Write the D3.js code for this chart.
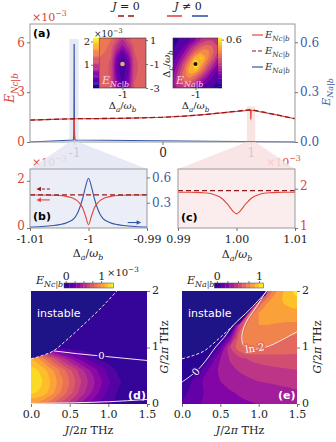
<!DOCTYPE html>
<html>
<head>
<meta charset="utf-8">
<script src="https://cdn.jsdelivr.net/npm/d3@7"></script>
<style>
  body { margin: 0; background: #fff; }
  svg { display: block; }
</style>
</head>
<body>
<script>
// ---------------- data ----------------
// (a) wide sweep of the detuning, E_Nc|b in units of 1e-3 (J = 0)
var sweepDelta = [-1.5, -1.25, -1, -0.75, -0.5, -0.25, 0, 0.25, 0.5, 0.75, 1, 1.25, 1.5];
var sweepNc = [1.32, 1.36, 1.40, 1.41, 1.42, 1.45, 1.49, 1.56, 1.66, 1.80, 1.95, 1.68, 1.40];

// narrow windows around the two resonances, offsets in units of 1e-3
var dipOffset = [-10, -8, -6, -5, -4, -3, -2.5, -2, -1.5, -1, -0.5, 0, 0.5, 1, 1.5, 2, 2.5, 3, 4, 5, 6, 8, 10];
var dipNcLow = [1.40, 1.40, 1.39, 1.38, 1.35, 1.29, 1.24, 1.17, 1.04, 0.85, 0.50, 0.14, 0.50, 0.85, 1.04, 1.17, 1.24, 1.29, 1.35, 1.38, 1.39, 1.40, 1.40];
var dipNaLow = [0.012, 0.018, 0.03, 0.04, 0.055, 0.085, 0.11, 0.16, 0.24, 0.35, 0.49, 0.59, 0.49, 0.35, 0.24, 0.16, 0.11, 0.085, 0.055, 0.04, 0.03, 0.018, 0.012];
var dipNcHigh = [1.91, 1.91, 1.90, 1.89, 1.86, 1.80, 1.75, 1.68, 1.60, 1.50, 1.41, 1.36, 1.41, 1.50, 1.60, 1.68, 1.75, 1.80, 1.86, 1.89, 1.90, 1.91, 1.91];

// inset maps over (Δa, Δc): columns Δa = -1.02 .. -0.98, rows Δc = -3 .. 1
var insetNc = [
  [1.30, 1.30, 1.20, 0.65, 0.40, 0.65, 1.20, 1.30, 1.30],
  [1.30, 1.30, 1.20, 0.55, 0.30, 0.55, 1.20, 1.30, 1.30],
  [1.30, 1.30, 1.15, 0.50, 0.20, 0.50, 1.15, 1.28, 1.30],
  [1.30, 1.30, 1.15, 0.45, 0.15, 0.45, 1.12, 1.26, 1.30],
  [1.30, 1.30, 1.15, 0.45, 0.15, 0.45, 1.12, 1.26, 1.30],
  [1.35, 1.30, 1.20, 0.55, 0.25, 0.55, 1.15, 1.28, 1.30],
  [1.40, 1.35, 1.25, 0.75, 0.45, 0.75, 1.20, 1.30, 1.30],
  [1.45, 1.40, 1.30, 0.95, 0.70, 0.95, 1.25, 1.30, 1.30],
  [1.40, 1.40, 1.35, 1.15, 0.90, 1.15, 1.30, 1.30, 1.30]
];
var insetNa = [
  [0.18, 0.26, 0.28, 0.25, 0.18, 0.12, 0.08, 0.06, 0.04],
  [0.20, 0.30, 0.36, 0.35, 0.28, 0.19, 0.13, 0.08, 0.06],
  [0.17, 0.29, 0.40, 0.45, 0.39, 0.30, 0.20, 0.13, 0.08],
  [0.14, 0.25, 0.38, 0.52, 0.54, 0.42, 0.30, 0.19, 0.12],
  [0.11, 0.20, 0.33, 0.47, 0.60, 0.50, 0.38, 0.27, 0.17],
  [0.09, 0.15, 0.25, 0.38, 0.52, 0.55, 0.45, 0.34, 0.24],
  [0.06, 0.11, 0.18, 0.28, 0.38, 0.45, 0.45, 0.38, 0.29],
  [0.05, 0.08, 0.12, 0.20, 0.28, 0.35, 0.38, 0.36, 0.30],
  [0.04, 0.06, 0.08, 0.12, 0.18, 0.25, 0.29, 0.30, 0.28]
];

// (d), (e): columns J = 0 .. 1.5 step 0.125, rows G = 0 .. 2 step 0.2
var mapNc = [
  [0.98, 0.94, 0.84, 0.70, 0.56, 0.42, 0.30, 0.20, 0.12, 0.07, 0.05, 0.05, 0.05],
  [1.22, 1.18, 1.06, 0.90, 0.74, 0.58, 0.43, 0.30, 0.18, 0.09, 0.05, 0.05, 0.05],
  [1.26, 1.22, 1.10, 0.95, 0.79, 0.63, 0.48, 0.34, 0.22, 0.12, 0.06, 0.05, 0.05],
  [1.24, 1.18, 1.04, 0.88, 0.72, 0.56, 0.41, 0.28, 0.16, 0.08, 0.05, 0.05, 0.05],
  [1.10, 0.98, 0.78, 0.58, 0.42, 0.28, 0.17, 0.09, 0.05, 0.05, 0.05, 0.05, 0.05],
  [0.40, 0.28, 0.15, 0.07, 0.05, 0.05, 0.05, 0.05, 0.05, 0.05, 0.05, 0.05, 0.05],
  [0.05, 0.05, 0.05, 0.05, 0.05, 0.05, 0.05, 0.05, 0.05, 0.05, 0.05, 0.05, 0.05],
  [0.05, 0.05, 0.05, 0.05, 0.05, 0.05, 0.05, 0.05, 0.05, 0.05, 0.05, 0.05, 0.05],
  [0.05, 0.05, 0.05, 0.05, 0.05, 0.05, 0.05, 0.05, 0.05, 0.05, 0.05, 0.05, 0.05],
  [0.05, 0.05, 0.05, 0.05, 0.05, 0.05, 0.05, 0.05, 0.05, 0.05, 0.05, 0.05, 0.05],
  [0.05, 0.05, 0.05, 0.05, 0.05, 0.05, 0.05, 0.05, 0.05, 0.05, 0.05, 0.05, 0.05]
];
var mapNa = [
  [0.12, 0.16, 0.20, 0.22, 0.25, 0.26, 0.28, 0.29, 0.30, 0.31, 0.32, 0.33, 0.33],
  [0.06, 0.13, 0.19, 0.23, 0.27, 0.29, 0.31, 0.33, 0.34, 0.35, 0.36, 0.37, 0.38],
  [-0.01, 0.10, 0.19, 0.26, 0.30, 0.33, 0.36, 0.38, 0.40, 0.41, 0.42, 0.43, 0.44],
  [-0.4, -0.15, 0.10, 0.24, 0.32, 0.37, 0.41, 0.44, 0.46, 0.47, 0.48, 0.49, 0.50],
  [-0.6, -0.4, -0.21, 0.12, 0.30, 0.41, 0.47, 0.51, 0.53, 0.55, 0.56, 0.565, 0.57],
  [-0.8, -0.6, -0.4, -0.16, 0.15, 0.48, 0.67, 0.73, 0.71, 0.685, 0.665, 0.65, 0.63],
  [-1, -0.8, -0.6, -0.4, -0.18, 0.2, 0.66, 0.77, 0.78, 0.76, 0.73, 0.70, 0.68],
  [-1.2, -1, -0.9, -0.8, -0.7, -0.54, 0.5, 0.76, 0.80, 0.80, 0.79, 0.78, 0.77],
  [-3, -3, -3, -3, -3, -3, -2.5, 0.62, 0.80, 0.84, 0.85, 0.86, 0.86],
  [-4, -4, -4, -4, -4, -4, -4, -3.2, 0.62, 0.80, 0.88, 0.92, 0.95],
  [-5, -5, -5, -5, -5, -5, -5, -5, -4.4, 0.6, 0.82, 0.95, 1.04]
];

// stability edge and contour lines in (J, G)
var instableEdge = [[0, 0.8], [0.15, 0.86], [0.29, 0.94], [0.45, 1.12], [0.66, 1.38], [0.89, 1.68], [1.11, 2.0]];
var zeroLineNc = [[0.29, 0.94], [0.6, 0.89], [0.9, 0.85], [1.2, 0.81], [1.5, 0.77]];
var floorLineNc = [[0, 0.01], [0.5, 0.02], [1.0, 0.04], [1.5, 0.08]];
var zeroLineNa = [[0, 0.39], [0.18, 0.57], [0.3, 0.75], [0.44, 1.01], [0.55, 1.18], [0.66, 1.38], [0.89, 1.68], [1.11, 2.0]];
var ln2LineNa = [[1.10, 2.0], [0.97, 1.72], [0.83, 1.43], [0.78, 1.19], [0.80, 1.04], [0.86, 0.97], [1.1, 1.01], [1.46, 1.25], [1.5, 1.28]];

// ---------------- setup ----------------
var red = "#e0473d", darkRed = "#8c1a1a", blue = "#3457a4";
var redText = "#d9453b", blueText = "#3a5ca8";
var plasma = d3.interpolatePlasma;

var svg = d3.select("body").append("svg")
  .attr("width", 336)
  .attr("height", 442)
  .style("font-family", "'DejaVu Serif', serif");

var defs = svg.append("defs");
function clipRect(id, x, y, w, h) {
  defs.append("clipPath").attr("id", id)
    .append("rect").attr("x", x).attr("y", y).attr("width", w).attr("height", h);
}

// text with italic / sub / superscript pieces
function rich(g, x, y, parts, o) {
  o = o || {};
  var size = o.size || 11;
  var t = g.append("text")
    .attr("transform", "translate(" + x + "," + y + ")" + (o.rot ? " rotate(" + o.rot + ")" : ""))
    .attr("text-anchor", o.anchor || "middle")
    .style("font-size", size + "px")
    .style("fill", o.color || "#222");
  var cur = 0;
  parts.forEach(function(p) {
    var kind = p[1] || "", shift = 0, fs = size;
    if (kind.indexOf("_") >= 0) { shift = size * 0.3; fs = size * 0.72; }
    if (kind.indexOf("^") >= 0) { shift = -size * 0.42; fs = size * 0.72; }
    t.append("tspan")
      .attr("dy", shift - cur)
      .style("font-size", fs + "px")
      .style("font-style", kind.indexOf("i") >= 0 ? "italic" : "normal")
      .text(p[0]);
    cur = shift;
  });
  return t;
}

var ENc = [["E", "i"], ["Nc|b", "_i"]];
var ENa = [["E", "i"], ["Na|b", "_i"]];
var DaWb = [["Δ", ""], ["a", "_i"], ["/", ""], ["ω", "i"], ["b", "_i"]];
var DcWb = [["Δ", ""], ["c", "_i"], ["/", ""], ["ω", "i"], ["b", "_i"]];
var exp3 = [["×10", ""], ["−3", "^"]];
var asText = function(d) { return String(d); };

function styleAxis(g, color, size) {
  g.attr("font-family", null).attr("font-size", null);
  g.select(".domain").remove();
  g.selectAll(".tick line").attr("stroke", "#555").attr("stroke-width", 0.8);
  g.selectAll(".tick text").style("font-size", (size || 11) + "px").attr("fill", color || "#222");
  return g;
}

// filled contour layers from a grid, smoothed
function drawField(g, grid, x0, dx, y0, dy, xs, ys, levels, fillFor) {
  var ny = grid.length, nx = grid[0].length;
  var flat = [].concat.apply([], grid);
  var layers = d3.contours().size([nx, ny]).thresholds(levels)(flat);
  var ring = d3.line()
    .x(function(p) { return xs(x0 + (p[0] - 0.5) * dx); })
    .y(function(p) { return ys(y0 + (p[1] - 0.5) * dy); })
    .curve(d3.curveCatmullRomClosed.alpha(0.5));
  g.selectAll(null).data(layers).join("path")
    .attr("fill-rule", "evenodd")
    .attr("fill", function(b) { return fillFor(b.value); })
    .attr("d", function(b) {
      return b.coordinates.map(function(poly) {
        return poly.map(function(r) { return ring(r.slice(0, -1)); }).join("");
      }).join("");
    });
}

// ---------------- panel (a) ----------------
var xA = d3.scaleLinear().domain([-1.5, 1.5]).range([30, 295]);
var yAL = d3.scaleLinear().domain([0, 7.1]).range([142, 24]);
var yAR = d3.scaleLinear().domain([0, 0.71]).range([142, 24]);

var gA = svg.append("g");

// highlighted windows
gA.append("rect")
  .attr("x", xA(-1.055)).attr("width", xA(-0.95) - xA(-1.055))
  .attr("y", yAL(6.2)).attr("height", yAL(0) - yAL(6.2))
  .attr("fill", "#e6e9f4");
gA.append("rect")
  .attr("x", xA(0.955)).attr("width", xA(1.05) - xA(0.955))
  .attr("y", yAL(2.15)).attr("height", yAL(0) - yAL(2.15))
  .attr("fill", "#f9e4e4");

var solidA = sweepDelta.map(function(d, i) { return [d, sweepNc[i]]; })
  .filter(function(p) { return Math.abs(Math.abs(p[0]) - 1) > 0.011; })
  .concat(dipOffset.map(function(o, i) { return [-1 + o / 1000, dipNcLow[i]]; }))
  .concat(dipOffset.map(function(o, i) { return [1 + o / 1000, dipNcHigh[i]]; }))
  .sort(function(a, b) { return a[0] - b[0]; });
var blueA = [[-1.5, 0]]
  .concat(dipOffset.map(function(o, i) { return [-1 + o / 1000, dipNaLow[i]]; }))
  .concat([[1.5, 0]]);
var dashA = sweepDelta.map(function(d, i) { return [d, sweepNc[i]]; });

var lineAL = d3.line().x(function(p) { return xA(p[0]); }).y(function(p) { return yAL(p[1]); });
var lineAR = d3.line().x(function(p) { return xA(p[0]); }).y(function(p) { return yAR(p[1]); });

gA.append("path").attr("d", lineAR(blueA)).attr("fill", "none").attr("stroke", blue).attr("stroke-width", 1.2);
gA.append("path").attr("d", lineAL(solidA)).attr("fill", "none").attr("stroke", red).attr("stroke-width", 1.2);
gA.append("path").attr("d", lineAL(dashA)).attr("fill", "none").attr("stroke", darkRed)
  .attr("stroke-width", 1.3).attr("stroke-dasharray", "5,3");

gA.append("rect").attr("x", 30).attr("y", 24).attr("width", 265).attr("height", 118)
  .attr("fill", "none").attr("stroke", "#999").attr("stroke-width", 1);

styleAxis(gA.append("g").attr("transform", "translate(30,0)")
  .call(d3.axisLeft(yAL).tickValues([0, 3, 6]).tickSize(3).tickPadding(2).tickFormat(asText)), redText, 12);
styleAxis(gA.append("g").attr("transform", "translate(295,0)")
  .call(d3.axisRight(yAR).tickValues([0, 0.3, 0.6]).tickSize(3).tickPadding(2).tickFormat(d3.format(".1f"))), blueText, 12);

rich(gA, 32, 21, exp3, { anchor: "start", color: redText, size: 11 });
rich(gA, 14, 88, ENc, { rot: -90, color: redText, size: 12 });
rich(gA, 330, 92, ENa, { rot: -90, color: blueText, size: 11 });
gA.append("text").attr("x", 33).attr("y", 37).text("(a)")
  .style("font-family", "'DejaVu Sans', sans-serif").style("font-weight", "bold").style("font-size", "11px");

// legend inside (a)
var legA = [
  { y: 35, color: red, dash: null, label: ENc },
  { y: 51, color: darkRed, dash: "4,2", label: ENc },
  { y: 67, color: blue, dash: null, label: ENa }
];
legA.forEach(function(d) {
  gA.append("line").attr("x1", 252).attr("x2", 263).attr("y1", d.y).attr("y2", d.y)
    .attr("stroke", d.color).attr("stroke-width", 1.2).attr("stroke-dasharray", d.dash);
  rich(gA, 265, d.y + 3, d.label, { anchor: "start", size: 10, color: "#333" });
});

// top legend: J = 0 / J ≠ 0
rich(svg, 126, 10, [["J", "i"], [" = 0", ""]], { size: 11, color: "#222" });
rich(svg, 188, 10, [["J", "i"], [" ≠ 0", ""]], { size: 11, color: "#222" });
svg.append("line").attr("x1", 118).attr("x2", 135).attr("y1", 16).attr("y2", 16)
  .attr("stroke", darkRed).attr("stroke-width", 1.6).attr("stroke-dasharray", "6,4");
svg.append("line").attr("x1", 167).attr("x2", 182).attr("y1", 16).attr("y2", 16)
  .attr("stroke", red).attr("stroke-width", 1.6);
svg.append("line").attr("x1", 192).attr("x2", 208).attr("y1", 16).attr("y2", 16)
  .attr("stroke", blue).attr("stroke-width", 1.6);

// ---- insets of (a) ----
var yI = d3.scaleLinear().domain([-3, 1.17]).range([88, 38]);
var xI1 = d3.scaleLinear().domain([-1.02, -0.98]).range([99, 146]);
var xI2 = d3.scaleLinear().domain([-1.02, -0.98]).range([173, 218]);
var cI1 = d3.scaleLinear().domain([0, 2.15]).range([88, 38]);
var cI2 = d3.scaleLinear().domain([0, 0.62]).range([88, 38]);

clipRect("clipI1", 99, 38, 47, 50);
clipRect("clipI2", 173, 38, 45, 50);

var gI1 = svg.append("g").attr("clip-path", "url(#clipI1)");
gI1.append("rect").attr("x", 99).attr("y", 38).attr("width", 47).attr("height", 50).attr("fill", plasma(0.05));
drawField(gI1, insetNc, -1.02, 0.005, -3, 0.5, xI1, yI, d3.range(0.15, 2.1, 0.15),
  function(t) { return plasma((t + 0.075) / 2.15); });
gI1.append("circle").attr("cx", xI1(-1)).attr("cy", yI(-1)).attr("r", 2.3).attr("fill", "#f6a36a");
rich(svg, 102, 84, ENc, { anchor: "start", size: 11, color: "#f7d6e8" });

var gI2 = svg.append("g").attr("clip-path", "url(#clipI2)");
gI2.append("rect").attr("x", 173).attr("y", 38).attr("width", 45).attr("height", 50).attr("fill", plasma(0.05));
drawField(gI2, insetNa, -1.02, 0.005, -3, 0.5, xI2, yI, d3.range(0.06, 0.61, 0.06),
  function(t) { return plasma((t + 0.03) / 0.62); });
gI2.append("circle").attr("cx", xI2(-1)).attr("cy", yI(-1)).attr("r", 2).attr("fill", "#111");
rich(svg, 176, 84, ENa, { anchor: "start", size: 11, color: "#f7d6e8" });

[[99, 38, 47, 50], [173, 38, 45, 50]].forEach(function(r) {
  svg.append("rect").attr("x", r[0]).attr("y", r[1]).attr("width", r[2]).attr("height", r[3])
    .attr("fill", "none").attr("stroke", "#333").attr("stroke-width", 0.6);
});

// inset colorbars
d3.range(0, 2.15, 0.05).forEach(function(v) {
  svg.append("rect").attr("x", 93).attr("width", 6)
    .attr("y", cI1(v + 0.05)).attr("height", cI1(v) - cI1(v + 0.05) + 0.3)
    .attr("fill", plasma(v / 2.15));
});
d3.range(0, 0.62, 0.02).forEach(function(v) {
  svg.append("rect").attr("x", 218).attr("width", 4)
    .attr("y", cI2(v + 0.02)).attr("height", cI2(v) - cI2(v + 0.02) + 0.3)
    .attr("fill", plasma(v / 0.62));
});
styleAxis(svg.append("g").attr("transform", "translate(93,0)")
  .call(d3.axisLeft(cI1).tickValues([1, 2]).tickSize(2).tickPadding(1).tickFormat(asText)), "#222", 10);
styleAxis(svg.append("g").attr("transform", "translate(222,0)")
  .call(d3.axisRight(cI2).tickValues([0.6]).tickSize(2).tickPadding(2).tickFormat(d3.format(".1f"))), "#222", 10);
rich(svg, 94, 37, exp3, { anchor: "start", size: 9 });

styleAxis(svg.append("g").attr("transform", "translate(146,0)")
  .call(d3.axisRight(yI).tickValues([1, -1, -3]).tickSize(2).tickPadding(2).tickFormat(asText)), "#222", 10);
styleAxis(svg.append("g").attr("transform", "translate(0,88)")
  .call(d3.axisBottom(xI1).tickValues([-1]).tickSize(2).tickPadding(1).tickFormat(asText)), "#222", 10);
styleAxis(svg.append("g").attr("transform", "translate(0,88)")
  .call(d3.axisBottom(xI2).tickValues([-1]).tickSize(2).tickPadding(1).tickFormat(asText)), "#222", 10);
rich(svg, xI1(-1), 109, DaWb, { size: 10 });
rich(svg, xI2(-1), 109, DaWb, { size: 10 });
rich(svg, 170, 64, DcWb, { rot: -90, size: 10 });

// ---------------- panels (b), (c) ----------------
var xB = d3.scaleLinear().domain([-1.01, -0.99]).range([30, 147]);
var yBL = d3.scaleLinear().domain([0, 2.5]).range([228, 169]);
var yBR = d3.scaleLinear().domain([0, 0.7]).range([228, 169]);
var xC = d3.scaleLinear().domain([0.99, 1.01]).range([178, 295]);
var yC = d3.scaleLinear().domain([1, 2.5]).range([228, 169]);

var lowLevel = sweepNc[sweepDelta.indexOf(-1)];
var highLevel = sweepNc[sweepDelta.indexOf(1)];

// multiplier labels sit under the shaded connectors
rich(svg, 32, 166, exp3, { anchor: "start", color: redText, size: 11 });
rich(svg, 266, 166, exp3, { anchor: "start", color: redText, size: 11 });

// connectors from the windows in (a) to the zoomed panels
svg.append("path")
  .attr("d", d3.line()([[xA(-1.055), 142], [xA(-0.95), 142], [147, 169], [30, 169]]) + "Z")
  .attr("fill", "#e3e6f2").attr("fill-opacity", 0.85);
svg.append("path")
  .attr("d", d3.line()([[xA(0.955), 142], [xA(1.05), 142], [295, 169], [178, 169]]) + "Z")
  .attr("fill", "#f8e1e1").attr("fill-opacity", 0.85);

styleAxis(gA.append("g").attr("transform", "translate(0,142)")
  .call(d3.axisBottom(xA).tickValues([-1, 0, 1]).tickSize(3).tickPadding(3).tickFormat(asText)), "#222", 12);

var gB = svg.append("g");
gB.append("rect").attr("x", 30).attr("y", 169).attr("width", 117).attr("height", 59).attr("fill", "#eceef7");
var nearB = dipOffset.map(function(o) { return -1 + o / 1000; });
var nearC = dipOffset.map(function(o) { return 1 + o / 1000; });

gB.append("path")
  .attr("d", d3.line().curve(d3.curveMonotoneX)
    .x(function(d, i) { return xB(nearB[i]); }).y(function(d) { return yBR(d); })(dipNaLow))
  .attr("fill", "none").attr("stroke", blue).attr("stroke-width", 1.1);
gB.append("path")
  .attr("d", d3.line().curve(d3.curveMonotoneX)
    .x(function(d, i) { return xB(nearB[i]); }).y(function(d) { return yBL(d); })(dipNcLow))
  .attr("fill", "none").attr("stroke", red).attr("stroke-width", 1.1);
gB.append("line").attr("x1", xB(-1.01)).attr("x2", xB(-0.99))
  .attr("y1", yBL(lowLevel)).attr("y2", yBL(lowLevel))
  .attr("stroke", darkRed).attr("stroke-width", 1.3).attr("stroke-dasharray", "5,3");

// arrows showing which axis each curve reads against
function arrow(g, xa, xb, y, color, dash) {
  var dir = xb > xa ? 1 : -1;
  g.append("line").attr("x1", xa).attr("x2", xb - dir * 3).attr("y1", y).attr("y2", y)
    .attr("stroke", color).attr("stroke-width", 1.1).attr("stroke-dasharray", dash);
  g.append("path")
    .attr("d", "M" + xb + "," + y + "L" + (xb - dir * 4.5) + "," + (y - 2.3) + "L" + (xb - dir * 4.5) + "," + (y + 2.3) + "Z")
    .attr("fill", color);
}
arrow(gB, xB(-1.0066), xB(-1.0089), yBL(1.65), darkRed, "3,2");
arrow(gB, xB(-1.0066), xB(-1.0089), yBL(1.19), red, null);
arrow(gB, xB(-0.9933), xB(-0.9910), yBR(0.065), blue, null);

gB.append("rect").attr("x", 30).attr("y", 169).attr("width", 117).attr("height", 59)
  .attr("fill", "none").attr("stroke", "#999");
gB.append("text").attr("x", 33).attr("y", 220).text("(b)")
  .style("font-family", "'DejaVu Sans', sans-serif").style("font-weight", "bold").style("font-size", "11px");

styleAxis(gB.append("g").attr("transform", "translate(30,0)")
  .call(d3.axisLeft(yBL).tickValues([0, 2]).tickSize(3).tickPadding(2).tickFormat(asText)), redText, 12)
  .selectAll(".tick text").attr("dy", "0.1em");
styleAxis(gB.append("g").attr("transform", "translate(147,0)")
  .call(d3.axisRight(yBR).tickValues([0.3, 0.6]).tickSize(3).tickPadding(2).tickFormat(d3.format(".1f"))), blueText, 12);
styleAxis(gB.append("g").attr("transform", "translate(0,228)")
  .call(d3.axisBottom(xB).tickValues([-1.01, -1, -0.99]).tickSize(3).tickPadding(4).tickFormat(asText)), "#222", 11);
rich(gB, 88, 257, DaWb, { size: 11 });

var gC = svg.append("g");
gC.append("rect").attr("x", 178).attr("y", 169).attr("width", 117).attr("height", 59).attr("fill", "#fbeded");
gC.append("path")
  .attr("d", d3.line().curve(d3.curveMonotoneX)
    .x(function(d, i) { return xC(nearC[i]); }).y(function(d) { return yC(d); })(dipNcHigh))
  .attr("fill", "none").attr("stroke", red).attr("stroke-width", 1.1);
gC.append("line").attr("x1", xC(0.99)).attr("x2", xC(1.01))
  .attr("y1", yC(highLevel)).attr("y2", yC(highLevel))
  .attr("stroke", darkRed).attr("stroke-width", 1.3).attr("stroke-dasharray", "5,3");
gC.append("rect").attr("x", 178).attr("y", 169).attr("width", 117).attr("height", 59)
  .attr("fill", "none").attr("stroke", "#999");
gC.append("text").attr("x", 181).attr("y", 221).text("(c)")
  .style("font-family", "'DejaVu Sans', sans-serif").style("font-weight", "bold").style("font-size", "11px");
styleAxis(gC.append("g").attr("transform", "translate(295,0)")
  .call(d3.axisRight(yC).tickValues([1, 2]).tickSize(3).tickPadding(2).tickFormat(asText)), redText, 12)
  .selectAll(".tick text").attr("dy", "0.1em");
styleAxis(gC.append("g").attr("transform", "translate(0,228)")
  .call(d3.axisBottom(xC).tickValues([0.99, 1, 1.01]).tickSize(3).tickPadding(4).tickFormat(d3.format(".2f"))), "#222", 11);
rich(gC, 237, 258, DaWb, { size: 11 });

// ---------------- panels (d), (e) ----------------
var yG = d3.scaleLinear().domain([0, 2]).range([404, 291]);
var xD = d3.scaleLinear().domain([0, 1.5]).range([31, 147]);
var xE = d3.scaleLinear().domain([0, 1.5]).range([182, 297]);
var normD = function(v) { return (v + 0.05) / 1.4; };
var normE = function(v) { return (v + 0.06) / 1.16; };
var levelsD = d3.range(0.1, 1.31, 0.1);
var levelsE = d3.range(0, 1.01, 0.1);
var bgD = plasma(normD(0.05)), bgE = plasma(0.05), instableFill = "#1f1388";

clipRect("clipD", 31, 291, 116, 113);
clipRect("clipE", 182, 291, 115, 113);

function mapPanel(id, xs, grid, levels, norm, bg) {
  var g = svg.append("g").attr("clip-path", "url(#" + id + ")");
  g.append("rect").attr("x", xs.range()[0]).attr("y", 291)
    .attr("width", xs.range()[1] - xs.range()[0]).attr("height", 113).attr("fill", bg);
  drawField(g, grid, 0, 0.125, 0, 0.2, xs, yG, levels, function(t) { return plasma(norm(t + 0.05)); });
  return g;
}

var gD = mapPanel("clipD", xD, mapNc, levelsD, normD, bgD);
var gE = mapPanel("clipE", xE, mapNa, levelsE, normE, bgE);

function lineIn(xs) {
  return d3.line().curve(d3.curveMonotoneX)
    .x(function(p) { return xs(p[0]); }).y(function(p) { return yG(p[1]); });
}
function lineY(xs) {
  return d3.line().curve(d3.curveCatmullRom.alpha(0.5))
    .x(function(p) { return xs(p[0]); }).y(function(p) { return yG(p[1]); });
}

// (d) overlays
gD.append("path").attr("d", lineIn(xD)(instableEdge.concat([[0, 2.0]])) + "Z").attr("fill", instableFill);
gD.append("path").attr("d", lineIn(xD)(instableEdge)).attr("fill", "none")
  .attr("stroke", "#f2e6f4").attr("stroke-width", 1).attr("stroke-dasharray", "3,2");
gD.append("path").attr("d", lineIn(xD)(zeroLineNc)).attr("fill", "none").attr("stroke", "#f2e6f4").attr("stroke-width", 1);
gD.append("path").attr("d", lineIn(xD)(floorLineNc)).attr("fill", "none").attr("stroke", "#f2e6f4").attr("stroke-width", 1);
gD.append("text").attr("x", xD(0.91)).attr("y", yG(0.85) + 3.5).attr("text-anchor", "middle")
  .style("font-size", "10px").style("fill", "#fff")
  .style("stroke", bgD).style("stroke-width", 3).style("paint-order", "stroke").text("0");
gD.append("text").attr("x", 37).attr("y", 317).text("instable")
  .style("font-family", "'DejaVu Sans', sans-serif").style("font-size", "11px").style("fill", "#fff");
gD.append("text").attr("x", 128).attr("y", 399).text("(d)")
  .style("font-family", "'DejaVu Sans', sans-serif").style("font-weight", "bold").style("font-size", "11px").style("fill", "#fff");

// (e) overlays
gE.append("path").attr("d", lineY(xE)(zeroLineNa.concat([[0, 2.0]])) + "Z").attr("fill", bgE);
var edgeE = instableEdge.filter(function(p) { return p[0] <= 0.66; });
gE.append("path").attr("d", lineIn(xE)(instableEdge.concat([[0, 2.0]])) + "Z").attr("fill", instableFill);
gE.append("path").attr("d", lineIn(xE)(edgeE)).attr("fill", "none")
  .attr("stroke", "#f2e6f4").attr("stroke-width", 1).attr("stroke-dasharray", "3,2");
gE.append("path").attr("d", lineY(xE)(zeroLineNa)).attr("fill", "none").attr("stroke", "#f2e6f4").attr("stroke-width", 1);
gE.append("path").attr("d", lineY(xE)(ln2LineNa)).attr("fill", "none").attr("stroke", "#f7ecec").attr("stroke-width", 1);
gE.append("text")
  .attr("transform", "translate(" + xE(0.18) + "," + yG(0.57) + ") rotate(-48)")
  .attr("text-anchor", "middle").attr("dy", 3.5)
  .style("font-size", "10px").style("fill", "#fff")
  .style("stroke", "#3d0a9c").style("stroke-width", 3).style("paint-order", "stroke").text("0");
gE.append("text")
  .attr("transform", "translate(" + xE(0.95) + "," + yG(0.99) + ") rotate(-8)")
  .attr("text-anchor", "middle").attr("dy", 3.5)
  .style("font-size", "10px").style("fill", "#fff")
  .style("stroke", "#e46a5c").style("stroke-width", 3).style("paint-order", "stroke").text("ln 2");
gE.append("text").attr("x", 188).attr("y", 317).text("instable")
  .style("font-family", "'DejaVu Sans', sans-serif").style("font-size", "11px").style("fill", "#fff");
gE.append("text").attr("x", 278).attr("y", 399).text("(e)")
  .style("font-family", "'DejaVu Sans', sans-serif").style("font-weight", "bold").style("font-size", "11px").style("fill", "#fff");

// axes for (d), (e)
[[xD, 147, 89, 168], [xE, 297, 240, 321]].forEach(function(a) {
  styleAxis(svg.append("g").attr("transform", "translate(0,404)")
    .call(d3.axisBottom(a[0]).tickValues([0, 0.5, 1, 1.5]).tickSize(3).tickPadding(3).tickFormat(d3.format(".1f"))), "#222", 11);
  var gy = styleAxis(svg.append("g").attr("transform", "translate(" + a[1] + ",0)")
    .call(d3.axisRight(yG).tickValues([0, 1, 2]).tickSize(3).tickPadding(2).tickFormat(d3.format("d"))), "#222", 11);
  gy.selectAll(".tick text").attr("dy", "0.2em");
  rich(svg, a[2], 434, [["J", "i"], ["/2", ""], ["π", "i"], [" THz", ""]], { size: 11 });
  rich(svg, a[3], 347, [["G", "i"], ["/2", ""], ["π", "i"], [" THz", ""]], { size: 11, rot: -90 });
});

// horizontal colorbars
var cD = d3.scaleLinear().domain([-0.05, 1.35]).range([64, 113.5]);
var cE = d3.scaleLinear().domain([-0.06, 1.1]).range([214.3, 263.3]);
function colorbar(cs, levels, norm, bg) {
  var d = cs.domain();
  var edges = [d[0]].concat(levels).concat([d[1]]);
  for (var i = 0; i < edges.length - 1; i++) {
    svg.append("rect").attr("x", cs(edges[i])).attr("width", cs(edges[i + 1]) - cs(edges[i]) + 0.3)
      .attr("y", 283).attr("height", 5)
      .attr("fill", i === 0 ? bg : plasma(norm(edges[i] + 0.05)));
  }
  svg.append("rect").attr("x", cs.range()[0]).attr("y", 283)
    .attr("width", cs.range()[1] - cs.range()[0]).attr("height", 5)
    .attr("fill", "none").attr("stroke", "#444").attr("stroke-width", 0.5);
  styleAxis(svg.append("g").attr("transform", "translate(0,283)")
    .call(d3.axisTop(cs).tickValues([0, 0.25, 0.5, 0.75, 1]).tickSize(2).tickPadding(1)
      .tickFormat(function(v) { return v === 0 || v === 1 ? String(v) : ""; })), "#222", 11);
}
colorbar(cD, levelsD, normD, bgD);
colorbar(cE, levelsE, normE, bgE);
rich(svg, 107, 276, exp3, { anchor: "start", size: 10 });
rich(svg, 36, 284, ENc, { anchor: "start", size: 11 });
rich(svg, 187, 284, ENa, { anchor: "start", size: 11 });
</script>
</body>
</html>
